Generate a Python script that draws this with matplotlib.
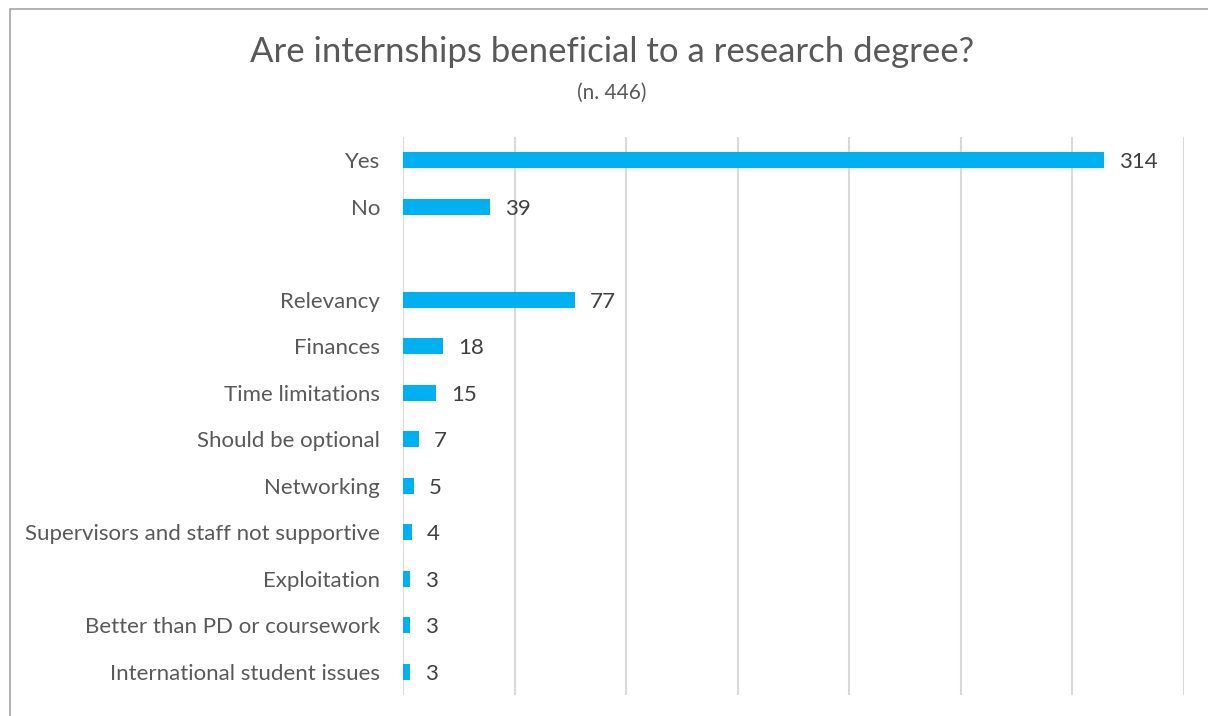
import matplotlib.pyplot as plt
from matplotlib.patches import Rectangle

# categories, top to bottom; "" is the empty spacer row
categories = ["Yes", "No", "", "Relevancy", "Finances", "Time limitations",
              "Should be optional", "Networking",
              "Supervisors and staff not supportive", "Exploitation",
              "Better than PD or coursework", "International student issues"]
counts = [314, 39, None, 77, 18, 15, 7, 5, 4, 3, 3, 3]

title = "Are internships beneficial to a research degree?"
subtitle = "(n. 446)"

plt.rcParams['font.family'] = ['Lato', 'DejaVu Sans']

fig = plt.figure(figsize=(12.08, 7.16), dpi=100)
ax = fig.add_axes([403 / 1208, 1 - 695 / 716, (1184 - 403) / 1208, (695 - 137) / 716])

ypos = list(range(len(categories)))
for y, v in zip(ypos, counts):
    if v is None:
        continue
    ax.barh(y, v, height=0.35, color="#00B0F0", zorder=3)
    ax.text(v + 6.7, y + 0.04, str(v), va="center", ha="left", fontsize=16, color="#404040")

ax.set_xlim(0, 350)
ax.set_ylim(len(categories) - 0.5, -0.5)
ax.set_xticks(range(0, 351, 50))
ax.set_xticklabels([])
ax.tick_params(axis="x", length=0)
ax.grid(axis="x", color="#D9D9D9", linewidth=1.5, zorder=0)
ax.set_yticks(ypos)
ax.set_yticklabels(categories, fontsize=16, color="#595959")
ax.tick_params(axis="y", length=0, pad=16.5)
for s in ax.spines.values():
    s.set_visible(False)

fig.text(612 / 1208, 1 - 52 / 716, title, ha="center", va="center",
         fontsize=25, color="#595959")
fig.text(612 / 1208, 1 - 93 / 716, subtitle, ha="center", va="center",
         fontsize=15, color="#595959")

# outer chart border (cropped at right and bottom)
fig.patches.append(Rectangle((10 / 1208, -0.1), 1.2, 1 - 9 / 716 + 0.1,
                             transform=fig.transFigure, fill=False,
                             edgecolor="#A6A6A6", linewidth=1.2))

fig.savefig("out.png", dpi=100)
